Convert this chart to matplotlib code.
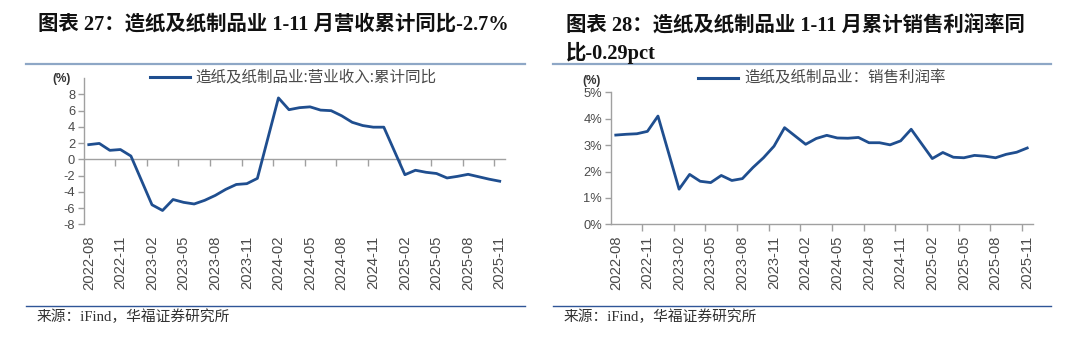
import numpy as np
import matplotlib
matplotlib.use("Agg")
import matplotlib.pyplot as plt
from matplotlib.lines import Line2D

# ---------------- data ----------------
months = [
    "2022-08", "2022-09", "2022-10", "2022-11", "2022-12",
    "2023-01", "2023-02", "2023-03", "2023-04", "2023-05", "2023-06",
    "2023-07", "2023-08", "2023-09", "2023-10", "2023-11", "2023-12",
    "2024-01", "2024-02", "2024-03", "2024-04", "2024-05", "2024-06",
    "2024-07", "2024-08", "2024-09", "2024-10", "2024-11", "2024-12",
    "2025-01", "2025-02", "2025-03", "2025-04", "2025-05", "2025-06",
    "2025-07", "2025-08", "2025-09", "2025-10", "2025-11",
]
tick_labels = ["2022-08", "2022-11", "2023-02", "2023-05", "2023-08", "2023-11",
               "2024-02", "2024-05", "2024-08", "2024-11", "2025-02", "2025-05",
               "2025-08", "2025-11"]

revenue_yoy = [1.8, 1.95, 1.1, 1.2, 0.4,
               None, -5.6, -6.3, -4.95, -5.3, -5.5, -5.05, -4.45, -3.7, -3.1, -3.0, -2.35,
               None, 7.55, 6.1, 6.35, 6.45, 6.05, 5.98, 5.35, 4.55, 4.15, 3.95, 3.95,
               None, -1.9, -1.35, -1.6, -1.75, -2.3, -2.1, -1.85, -2.15, -2.45, -2.7]

profit_margin = [3.38, 3.41, 3.43, 3.52, 4.1,
                 None, 1.33, 1.89, 1.63, 1.58, 1.85, 1.66, 1.73, 2.15, 2.52, 2.96, 3.66,
                 None, 3.03, 3.25, 3.37, 3.27, 3.26, 3.29, 3.09, 3.09, 3.01, 3.16, 3.6,
                 None, 2.49, 2.72, 2.54, 2.52, 2.61, 2.58, 2.52, 2.65, 2.73, 2.89]

left_title = "图表 27：造纸及纸制品业 1-11 月营收累计同比-2.7%"
right_title_1 = "图表 28：造纸及纸制品业 1-11 月累计销售利润率同"
right_title_2 = "比-0.29pct"
left_legend = "造纸及纸制品业:营业收入:累计同比"
right_legend = "造纸及纸制品业：销售利润率"
source_text = "来源：iFind，华福证券研究所"

# ---------------- style ----------------
W, H = 1080, 354
LINE_C = "#1F4E8F"
AXIS_C = "#A0A0A0"
TXT_C = "#4A4A4A"
TITLE_FONT = ["Liberation Serif", "Noto Sans CJK SC"]
CJK_FONT = ["Noto Sans CJK SC", "DejaVu Sans"]
NUM_FONT = ["Liberation Sans", "DejaVu Sans"]

fig = plt.figure(figsize=(W / 100, H / 100), dpi=100)
fig.patch.set_facecolor("white")


def fx(px):
    return px / W


def fy(py):
    return 1 - py / H


def hline(x0, x1, y, color, lw):
    fig.add_artist(Line2D([fx(x0), fx(x1)], [fy(y), fy(y)], color=color, lw=lw,
                          transform=fig.transFigure))


x = np.arange(len(months))
tick_pos = [months.index(t) for t in tick_labels]
boundaries = [p + 2.5 for p in range(0, len(months) - 1, 3)]


def setup_axes(rect, values, ylim, yticks, yfmt, zero_frac):
    ax = fig.add_axes(rect)
    vals = np.array([np.nan if v is None else v for v in values], dtype=float)
    ok = ~np.isnan(vals)
    ax.plot(x[ok], vals[ok], color=LINE_C, lw=2.0, solid_joinstyle="round")
    ax.set_xlim(-0.5, len(months) - 0.5)
    ax.set_ylim(*ylim)
    ax.set_yticks(yticks)
    ax.set_yticklabels([yfmt(v) for v in yticks])
    for s in ["top", "right", "bottom"]:
        ax.spines[s].set_visible(False)
    ax.spines["left"].set_color(AXIS_C)
    ax.spines["left"].set_linewidth(1.0)
    ax.tick_params(axis="y", direction="out", length=4, width=1.0, color=AXIS_C,
                   labelsize=9.3, labelcolor=TXT_C, pad=2)
    for lab in ax.get_yticklabels():
        lab.set_family(NUM_FONT)
    ax.set_xticks(tick_pos)
    ax.set_xticklabels(tick_labels, rotation=90, fontsize=10.6, color=TXT_C,
                       family=NUM_FONT)
    ax.tick_params(axis="x", length=0, pad=8)
    # category axis line with tick marks between categories
    sec = ax.secondary_xaxis(zero_frac)
    sec.set_xticks(boundaries)
    sec.set_xticklabels([])
    sec.spines["bottom"].set_color(AXIS_C)
    sec.spines["bottom"].set_linewidth(1.0)
    sec.tick_params(axis="x", direction="out", length=5, width=1.0, color=AXIS_C)
    ax.patch.set_alpha(0)
    return ax


# left chart: y from -8 to 10 (pixels 224.3 .. 78)
axL = setup_axes([fx(83.5), fy(224.3), fx(505) - fx(83.5), fy(78) - fy(224.3)],
                 revenue_yoy, (-8, 10), list(range(-8, 9, 2)),
                 lambda v: f"{v:d}", 8 / 18)

# right chart: 0 .. 5 %
axR = setup_axes([fx(610.5), fy(224.3), fx(1032.5) - fx(610.5), fy(92.3) - fy(224.3)],
                 profit_margin, (0, 5), list(range(0, 6)),
                 lambda v: f"{v:d}%", 0)

# ---------------- titles & decorations ----------------
fig.text(fx(38), fy(25), left_title, family=TITLE_FONT, weight="bold", fontsize=14.7,
         color="#111111", ha="left", va="center")
fig.text(fx(566), fy(25), right_title_1, family=TITLE_FONT, weight="bold", fontsize=14.7,
         color="#111111", ha="left", va="center")
fig.text(fx(566), fy(53), right_title_2, family=TITLE_FONT, weight="bold", fontsize=14.7,
         color="#111111", ha="left", va="center")

hline(26, 525, 64, "#8EA7C6", 1.6)
hline(553, 1051, 64, "#8EA7C6", 1.6)
hline(26, 525, 306, "#2F5597", 1.0)
hline(553, 1051, 306, "#2F5597", 1.0)

# legends
hline(150, 190, 77, LINE_C, 2.2)
fig.text(fx(195), fy(77), left_legend, family=CJK_FONT, fontsize=11.2, color=TXT_C,
         ha="left", va="center")
hline(698, 738, 78, LINE_C, 2.2)
fig.text(fx(744), fy(78), right_legend, family=CJK_FONT, fontsize=11.2, color=TXT_C,
         ha="left", va="center")

# unit labels
fig.text(fx(62), fy(79), "(%)", family=NUM_FONT, fontsize=8.5, color="#333333",
         ha="center", va="center", weight="bold")
fig.text(fx(592), fy(81), "(%)", family=NUM_FONT, fontsize=8.5, color="#333333",
         ha="center", va="center", weight="bold")

# sources
fig.text(fx(37), fy(317), source_text, family=TITLE_FONT, fontsize=10.6, color="#333333",
         ha="left", va="center")
fig.text(fx(564), fy(317), source_text, family=TITLE_FONT, fontsize=10.6, color="#333333",
         ha="left", va="center")

fig.savefig("out.png", dpi=100, facecolor="white")
